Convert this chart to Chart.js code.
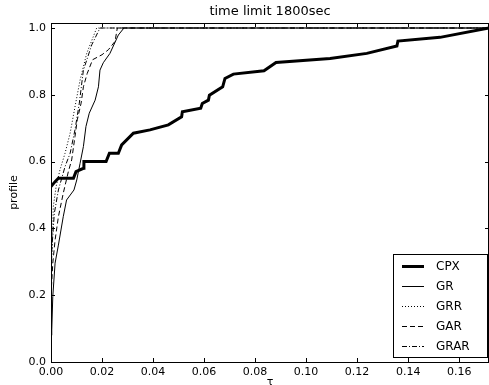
<!DOCTYPE html>
<html>
<head>
<meta charset="utf-8">
<script src="https://cdn.jsdelivr.net/npm/chart.js@4.4.1/dist/chart.umd.min.js"></script>
<style>
  html, body { margin: 0; padding: 0; background: #fff; }
  #wrap { width: 489px; height: 385px; }
</style>
</head>
<body>
<div id="wrap"><canvas id="c"></canvas></div>
<script>
// ---- data (tau, profile) ----
const TAU_MAX = 0.1717;
const P_MAX = 1.015;

const cpxTau = [0, 0.0016, 0.0029, 0.0088, 0.0098, 0.0127, 0.0129, 0.0216, 0.0229, 0.0264, 0.0277, 0.0323, 0.0388, 0.046, 0.0512, 0.0515, 0.0587, 0.0593, 0.0617, 0.0621, 0.0673, 0.0682, 0.0715, 0.0835, 0.0882, 0.1094, 0.1238, 0.1356, 0.136, 0.1525, 0.1717];
const cpxP   = [0.525, 0.54, 0.55, 0.55, 0.57, 0.58, 0.60, 0.60, 0.625, 0.625, 0.65, 0.685, 0.695, 0.71, 0.734, 0.749, 0.76, 0.774, 0.784, 0.799, 0.824, 0.849, 0.862, 0.872, 0.897, 0.909, 0.924, 0.946, 0.961, 0.972, 1.0];

const grTau = [0, 0.0003, 0.0007, 0.0016, 0.0029, 0.0048, 0.0061, 0.009, 0.0101, 0.0114, 0.0127, 0.0137, 0.015, 0.0173, 0.0186, 0.0192, 0.0205, 0.0231, 0.0264, 0.0286, 0.1717];
const grP   = [0.08, 0.096, 0.196, 0.296, 0.35, 0.435, 0.485, 0.515, 0.545, 0.595, 0.645, 0.705, 0.745, 0.784, 0.824, 0.874, 0.896, 0.924, 0.979, 1.0, 1.0];

const grrTau = [0, 0.0005, 0.0009, 0.002, 0.0035, 0.0055, 0.0075, 0.0094, 0.0114, 0.014, 0.0179, 0.1717];
const grrP   = [0.25, 0.345, 0.465, 0.525, 0.575, 0.625, 0.685, 0.764, 0.844, 0.924, 1.0, 1.0];

const garTau = [0, 0.0007, 0.0016, 0.0029, 0.0048, 0.0068, 0.0081, 0.0094, 0.0103, 0.0118, 0.0127, 0.0142, 0.0163, 0.02, 0.0225, 0.0251, 0.026, 0.1717];
const garP   = [0.2, 0.296, 0.365, 0.435, 0.505, 0.57, 0.605, 0.675, 0.725, 0.775, 0.824, 0.864, 0.905, 0.92, 0.935, 0.96, 1.0, 1.0];

const grarTau = [0, 0.0004, 0.0013, 0.0029, 0.0055, 0.0075, 0.0094, 0.0111, 0.0127, 0.016, 0.0192, 0.1717];
const grarP   = [0.3, 0.345, 0.445, 0.515, 0.585, 0.625, 0.695, 0.775, 0.874, 0.95, 1.0, 1.0];

const xTicks = [0, 0.02, 0.04, 0.06, 0.08, 0.10, 0.12, 0.14, 0.16];
const yTicks = [0, 0.2, 0.4, 0.6, 0.8, 1.0];

const pts = (xs, ys) => xs.map((x, i) => ({x: x, y: ys[i]}));
const FONT = 'DejaVu Sans';

function series(label, xs, ys, width, dash) {
  return {
    label: label,
    data: pts(xs, ys),
    borderColor: '#000',
    borderWidth: width,
    borderDash: dash,
    pointRadius: 0,
    fill: false,
    tension: 0
  };
}

// inward ticks, frame, title, axis labels and legend box
const decor = {
  id: 'decor',
  afterDatasetsDraw(chart) {
    const {ctx, chartArea: a, scales} = chart;
    ctx.save();
    ctx.strokeStyle = '#000';
    ctx.lineWidth = 1;
    ctx.strokeRect(a.left + 0.5, a.top + 0.5, a.right - a.left - 1, a.bottom - a.top);
    ctx.beginPath();
    xTicks.forEach(v => {
      const px = Math.round(scales.x.getPixelForValue(v)) + 0.5;
      ctx.moveTo(px, a.bottom); ctx.lineTo(px, a.bottom - 4);
      ctx.moveTo(px, a.top); ctx.lineTo(px, a.top + 4);
    });
    yTicks.forEach(v => {
      const py = Math.round(scales.y.getPixelForValue(v)) + 0.5;
      ctx.moveTo(a.left, py); ctx.lineTo(a.left + 4, py);
      ctx.moveTo(a.right, py); ctx.lineTo(a.right - 4, py);
    });
    ctx.stroke();

    // title
    ctx.fillStyle = '#000';
    ctx.font = '13px "' + FONT + '"';
    ctx.textAlign = 'center';
    ctx.textBaseline = 'middle';
    ctx.fillText('time limit 1800sec', (a.left + a.right) / 2, 12);

    // axis labels
    ctx.font = '11px "' + FONT + '"';
    ctx.textBaseline = 'top';
    ctx.fillText('\u03c4', (a.left + a.right) / 2, 377);
    ctx.save();
    ctx.translate(14, (a.top + a.bottom) / 2);
    ctx.rotate(-Math.PI / 2);
    ctx.textBaseline = 'middle';
    ctx.fillText('profile', 0, 0);
    ctx.restore();

    // legend
    const lx = 393, ly = 254, lw = 94, lh = 103;
    ctx.fillStyle = '#fff';
    ctx.fillRect(lx, ly, lw, lh);
    ctx.strokeStyle = '#000';
    ctx.lineWidth = 1;
    ctx.strokeRect(lx + 0.5, ly + 0.5, lw, lh);
    ctx.font = '12px "' + FONT + '"';
    ctx.textAlign = 'left';
    ctx.textBaseline = 'middle';
    chart.data.datasets.forEach((ds, i) => {
      const y = ly + 12 + i * 20 + 0.5;
      ctx.beginPath();
      ctx.setLineDash(ds.borderDash || []);
      ctx.lineWidth = ds.borderWidth;
      ctx.moveTo(lx + 9, y);
      ctx.lineTo(lx + 31, y);
      ctx.stroke();
      ctx.setLineDash([]);
      ctx.fillStyle = '#000';
      ctx.fillText(ds.label, lx + 43, y);
    });
    ctx.restore();
  }
};

new Chart(document.getElementById('c'), {
  type: 'line',
  data: {
    datasets: [
      series('CPX', cpxTau, cpxP, 3, []),
      series('GR', grTau, grP, 1, []),
      series('GRR', grrTau, grrP, 1, [1, 2]),
      series('GAR', garTau, garP, 1, [5, 3]),
      series('GRAR', grarTau, grarP, 1, [5, 2, 1, 2])
    ]
  },
  options: {
    responsive: true,
    maintainAspectRatio: false,
    animation: false,
    layout: {padding: {top: 23, right: 0, left: 0, bottom: 0}},
    plugins: {legend: {display: false}, tooltip: {enabled: false}, title: {display: false}},
    scales: {
      x: {
        type: 'linear',
        min: 0,
        max: TAU_MAX,
        afterFit: s => { s.height = 23; },
        afterBuildTicks: s => { s.ticks = xTicks.map(v => ({value: v})); },
        grid: {display: false, drawTicks: false},
        border: {display: false},
        ticks: {
          color: '#000',
          font: {family: FONT, size: 11},
          padding: 4,
          maxRotation: 0,
          autoSkip: false,
          callback: v => v.toFixed(2)
        }
      },
      y: {
        min: 0,
        max: P_MAX,
        afterFit: s => { s.width = 51; },
        afterBuildTicks: s => { s.ticks = yTicks.map(v => ({value: v})); },
        grid: {display: false, drawTicks: false},
        border: {display: false},
        ticks: {
          color: '#000',
          font: {family: FONT, size: 11},
          padding: 5,
          autoSkip: false,
          callback: v => v.toFixed(1)
        }
      }
    }
  },
  plugins: [decor]
});
</script>
</body>
</html>
